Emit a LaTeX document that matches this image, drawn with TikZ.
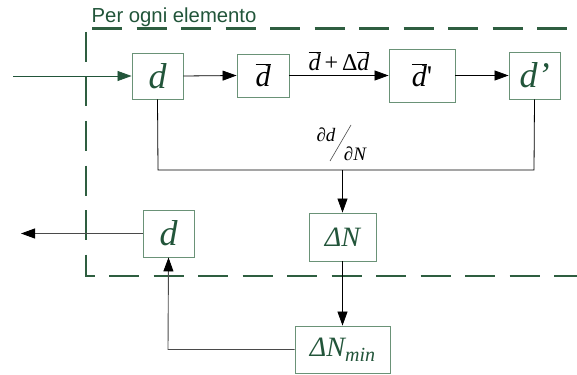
\documentclass[tikz,border=0pt]{standalone}
\usepackage{fontspec}
\setmainfont{Liberation Serif}
\newfontfamily\labelsans{Liberation Sans}
\newfontfamily\eqfont{Liberation Serif}
\usetikzlibrary{arrows.meta}
\definecolor{boxgreen}{HTML}{6A9277}
\definecolor{txtgreen}{HTML}{22553A}
\definecolor{dashgreen}{HTML}{2E5E40}
\definecolor{linegray}{HTML}{4A4A4A}
\begin{document}
\begin{tikzpicture}[x=1pt,y=-1pt,
  blk/.style={draw=boxgreen,line width=0.9pt,fill=white,inner sep=0pt,font=\fontsize{36}{36}\selectfont\itshape,text=txtgreen},
  blkk/.style={blk,text=black,font=\eqfont\fontsize{30}{30}\selectfont\itshape},
  tip/.style={-{Triangle[length=14pt,width=10pt,fill=#1,color=#1]}},
  conn/.style={line width=0.8pt,draw=black},
  arr/.style={conn,tip=black},
  frame/.style={draw=dashgreen,line width=2.2pt,dash pattern=on 30pt off 14.5pt}]
\useasboundingbox (0,0) rectangle (577,374);
\begin{scope}
\clip (0,0) rectangle (577,374);
\draw[frame] (86,32) -- (86,276) -- (620,276);
\draw[frame,dash phase=38.5pt] (86,28.5) -- (620,28.5);
\end{scope}
\node[anchor=base west,text=txtgreen,font=\labelsans\fontsize{20.3}{20.3}\selectfont,inner sep=0pt] (title) at (91.5,23) {Per ogni elemento};
\node[blk,minimum width=51pt,minimum height=46pt] (d1) at (157.5,76) {d};
\node[blkk,minimum width=52pt,minimum height=43pt] (db) at (263,75.5) {$\overline{\mbox{\eqfont\itshape d}}$};
\node[blkk,minimum width=66pt,minimum height=53pt] (dbp) at (422,75.5) {$\overline{\mbox{\eqfont\itshape d}}$\upshape '};
\node[blk,minimum width=51pt,minimum height=47pt] (dp) at (534.5,75.5) {d’};
\node[blk,minimum width=67pt,minimum height=48pt,font=\fontsize{28}{28}\selectfont\itshape] (dN) at (342.5,237) {ΔN};
\node[blk,minimum width=95pt,minimum height=47pt,font=\fontsize{28}{28}\selectfont\itshape] (dNmin) at (342.5,349.5) {ΔN\raisebox{-5pt}{\fontsize{20}{20}\selectfont min}};
\node[blk,minimum width=51pt,minimum height=47pt] (d2) at (168.5,233.5) {d};
\coordinate (in) at (13,76);
\coordinate (out) at (21,233.5);
\coordinate (jL) at (158,170);
\coordinate (jR) at (534,170);
\coordinate (jM) at (342.5,170);
\coordinate (jB) at (168,349.5);
\draw[conn,draw=txtgreen,tip=txtgreen] (in) -- (d1.west);
\draw[arr] (d1.east) -- (db.west);
\draw[arr] (db.east) -- node[above=1pt,font=\eqfont\fontsize{24}{24}\selectfont\itshape,text=black] (lab) {$\overline{\mbox{\eqfont\itshape d}}$\,\upshape+\,Δ$\overline{\mbox{\eqfont\itshape d}}$} (dbp.west);
\draw[arr] (dbp.east) -- (dp.west);
\draw[conn] (d1.south) -- (jL) -- (jR) -- (dp.south);
\draw[arr] (jM) -- (dN.north);
\draw[arr] (dN.south) -- (dNmin.north);
\draw[conn,line width=0.9pt,draw=linegray,tip=black] (dNmin.west) -- (jB) -- (d2.south);
\draw[conn,line width=0.9pt,draw=linegray,tip=black] (d2.west) -- (out);
\node[font=\eqfont\fontsize{19}{19}\selectfont\itshape,inner sep=0pt] (pd) at (326,135) {∂d};
\node[font=\eqfont\fontsize{19}{19}\selectfont\itshape,inner sep=0pt] (pN) at (355,154) {∂N};
\draw[line width=0.6pt,black!70] (330,161) -- (351,125);
\end{tikzpicture}
\end{document}
